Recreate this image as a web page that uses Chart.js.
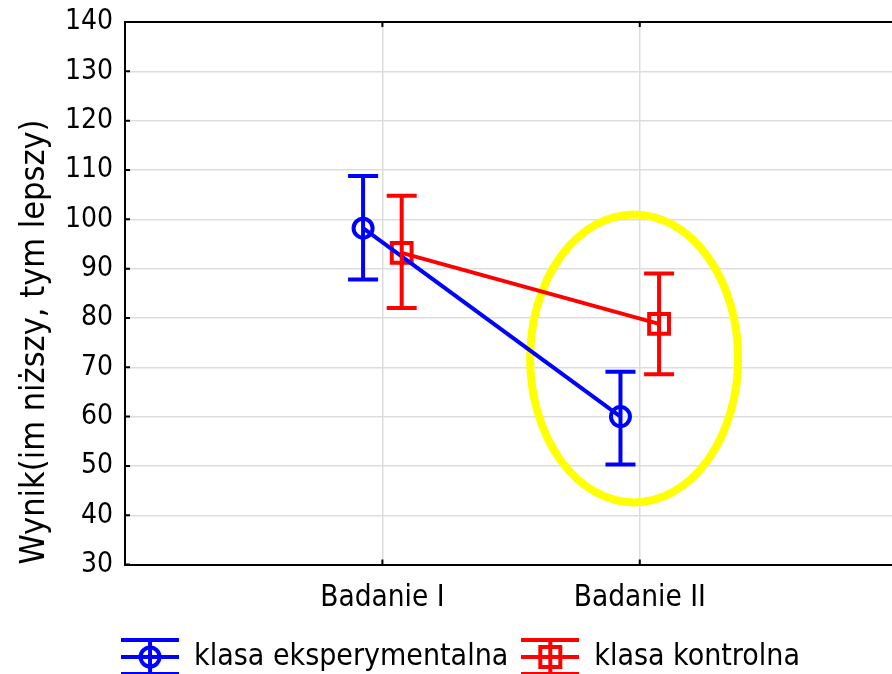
<!DOCTYPE html>
<html>
<head>
<meta charset="utf-8">
<script src="https://cdn.jsdelivr.net/npm/chart.js@4.4.1/dist/chart.umd.min.js"></script>
<style>
  body { margin: 0; background: #fff; }
  canvas { display: block; }
</style>
</head>
<body>
<canvas id="meansChart" width="892" height="674"></canvas>
<script>
const categories = ["Badanie I", "Badanie II"];
const seriesNames = ["klasa eksperymentalna", "klasa kontrolna"];
const expMeans = [98.2, 60.0];
const expLow = [87.8, 50.3];
const expHigh = [108.8, 69.1];
const ctrlMeans = [93.2, 78.8];
const ctrlLow = [82.0, 68.6];
const ctrlHigh = [104.8, 89.0];
const yMin = 30, yMax = 140, yStep = 10;
const yTitle = "Wynik(im niższy, tym lepszy)";

// yellow highlight ring around "Badanie II" (data units)
const ringCenter = { x: 1.978, y: 71.8 };
const ringRadius = { x: 0.404, y: 29.2 };

const FONT = '"DejaVu Sans Condensed", "DejaVu Sans", sans-serif';
const BLUE = "#0000ff";
const RED = "#ff0000";
const OFFSET = 0.075; // small horizontal dodge between the two groups

function toPoints(values, shift) {
  return values.map((v, i) => ({ x: i + 1 + shift, y: v }));
}

function legendGlyph(color, shape) {
  const c = document.createElement("canvas");
  c.width = 58;
  c.height = 38;
  const g = c.getContext("2d");
  g.strokeStyle = color;
  g.lineWidth = 4;
  g.beginPath();
  [2, 19, 36].forEach(y => { g.moveTo(0, y); g.lineTo(58, y); });
  g.moveTo(29, 2);
  g.lineTo(29, 36);
  g.stroke();
  g.beginPath();
  if (shape === "circle") g.arc(29, 19, 9.5, 0, Math.PI * 2);
  else g.rect(19, 9, 20, 20);
  g.stroke();
  return c;
}

const glyphs = [legendGlyph(BLUE, "circle"), legendGlyph(RED, "rect")];

const errorBars = {
  id: "errorBars",
  beforeDatasetsDraw(chart) {
    const { ctx, scales: { x, y } } = chart;
    ctx.save();
    ctx.strokeStyle = "#ffff00";
    ctx.lineWidth = 8;
    ctx.beginPath();
    ctx.ellipse(
      x.getPixelForValue(ringCenter.x), y.getPixelForValue(ringCenter.y),
      Math.abs(x.getPixelForValue(ringCenter.x + ringRadius.x) - x.getPixelForValue(ringCenter.x)),
      Math.abs(y.getPixelForValue(ringCenter.y + ringRadius.y) - y.getPixelForValue(ringCenter.y)),
      0, 0, Math.PI * 2);
    ctx.stroke();
    ctx.restore();
  },
  afterDatasetsDraw(chart) {
    const { ctx, scales: { x, y } } = chart;
    const sets = [[expLow, expHigh, -OFFSET, BLUE], [ctrlLow, ctrlHigh, OFFSET, RED]];
    ctx.save();
    ctx.lineWidth = 4;
    sets.forEach(([lo, hi, shift, color]) => {
      ctx.strokeStyle = color;
      lo.forEach((l, i) => {
        const px = x.getPixelForValue(i + 1 + shift);
        const y1 = y.getPixelForValue(l);
        const y2 = y.getPixelForValue(hi[i]);
        ctx.beginPath();
        ctx.moveTo(px, y1); ctx.lineTo(px, y2);
        ctx.moveTo(px - 15, y1); ctx.lineTo(px + 15, y1);
        ctx.moveTo(px - 15, y2); ctx.lineTo(px + 15, y2);
        ctx.stroke();
      });
    });
    ctx.restore();
  },
  afterDraw(chart) {
    // top frame line and the short inward tick marks
    const { ctx, chartArea: a, scales: { x, y } } = chart;
    ctx.save();
    ctx.strokeStyle = "#000";
    ctx.lineWidth = 2;
    ctx.beginPath();
    ctx.moveTo(a.left, a.top);
    ctx.lineTo(a.right, a.top);
    y.ticks.forEach(t => {
      const py = y.getPixelForValue(t.value);
      ctx.moveTo(a.left, py); ctx.lineTo(a.left + 5, py);
    });
    x.ticks.forEach(t => {
      const px = x.getPixelForValue(t.value);
      ctx.moveTo(px, a.bottom); ctx.lineTo(px, a.bottom - 5);
      ctx.moveTo(px, a.top); ctx.lineTo(px, a.top + 5);
    });
    ctx.stroke();
    ctx.restore();
  }
};

new Chart(document.getElementById("meansChart"), {
  type: "line",
  data: {
    datasets: [
      {
        label: seriesNames[0],
        data: toPoints(expMeans, -OFFSET),
        borderColor: BLUE,
        borderWidth: 4,
        pointStyle: "circle",
        pointRadius: 9.5,
        pointBorderWidth: 4,
        pointBackgroundColor: "rgba(0,0,0,0)",
        pointBorderColor: BLUE
      },
      {
        label: seriesNames[1],
        data: toPoints(ctrlMeans, OFFSET),
        borderColor: RED,
        borderWidth: 4,
        pointStyle: "rect",
        pointRadius: 14,
        pointBorderWidth: 4,
        pointBackgroundColor: "rgba(0,0,0,0)",
        pointBorderColor: RED
      }
    ]
  },
  options: {
    responsive: false,
    animation: false,
    // plot runs off the right edge of the picture, as in the original
    layout: { autoPadding: false, padding: { top: 22, right: -14, left: 15, bottom: -8 } },
    scales: {
      x: {
        type: "linear",
        min: 0,
        max: 2.98,
        afterBuildTicks: scale => { scale.ticks = categories.map((c, i) => ({ value: i + 1 })); },
        afterFit: scale => { scale.paddingRight = 0; scale.paddingLeft = 0; scale.height -= 3; },
        ticks: {
          color: "#000",
          font: { family: FONT, size: 29.5 },
          padding: 16,
          callback: v => categories[v - 1] || ""
        },
        grid: { color: "#dddddd", lineWidth: 1.5, drawTicks: false },
        border: { color: "#000", width: 2 }
      },
      y: {
        min: yMin,
        max: yMax,
        afterFit: scale => { scale.width = 110; scale.paddingTop = 0; scale.paddingBottom = 0; },
        ticks: {
          stepSize: yStep,
          color: "#000",
          font: { family: FONT, size: 28 },
          padding: 12
        },
        grid: { color: "#dddddd", lineWidth: 1.5, drawTicks: false },
        border: { color: "#000", width: 2 },
        title: {
          display: true,
          text: yTitle,
          align: "start",
          color: "#000",
          font: { family: FONT, size: 34 },
          padding: { top: 0, bottom: 11 }
        }
      }
    },
    plugins: {
      tooltip: { enabled: false },
      legend: {
        position: "bottom",
        labels: {
          color: "#000",
          font: { family: FONT, size: 30 },
          usePointStyle: true,
          pointStyleWidth: 58,
          padding: 13,
          generateLabels: chart => chart.data.datasets.map((ds, i) => ({
            text: ds.label,
            pointStyle: glyphs[i],
            datasetIndex: i,
            fontColor: "#000",
            lineWidth: 0
          }))
        }
      }
    }
  },
  plugins: [errorBars]
});
</script>
</body>
</html>
